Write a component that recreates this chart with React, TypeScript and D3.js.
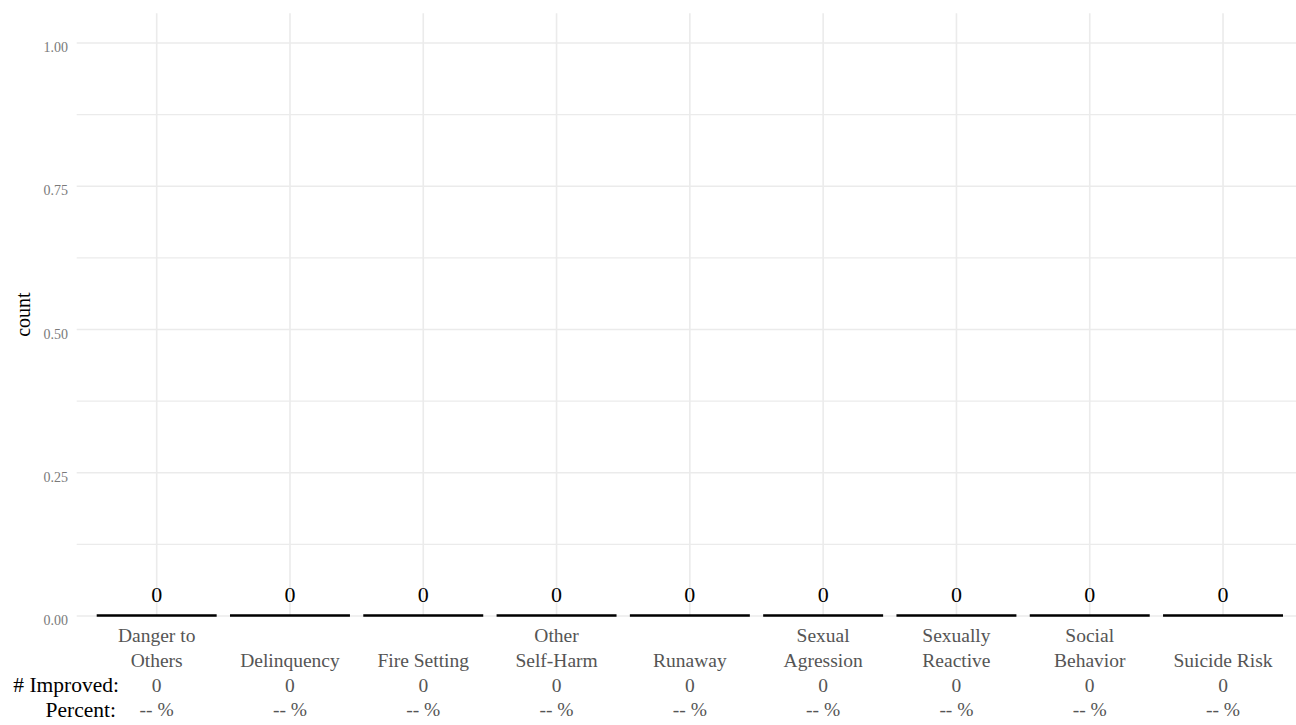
import React from "react";
import * as d3 from "d3";

const categories: string[][] = [
  ["Danger to", "Others"],
  ["Delinquency"],
  ["Fire Setting"],
  ["Other", "Self-Harm"],
  ["Runaway"],
  ["Sexual", "Agression"],
  ["Sexually", "Reactive"],
  ["Social", "Behavior"],
  ["Suicide Risk"],
];
const counts: number[] = [0, 0, 0, 0, 0, 0, 0, 0, 0];
const improved: number[] = [0, 0, 0, 0, 0, 0, 0, 0, 0];
const percentLabels: string[] = ["--", "--", "--", "--", "--", "--", "--", "--", "--"];
const yTicks: number[] = [0, 0.25, 0.5, 0.75, 1.0];
const yMinor: number[] = [0.125, 0.375, 0.625, 0.875];

const W = 1296;
const H = 725;
const FONT = "'Liberation Serif', 'Times New Roman', serif";

export default function App() {
  const x = d3.scaleLinear().domain([0.4, categories.length + 0.6]).range([76.7, 1303]);
  const y = d3.scaleLinear().domain([0, 1]).range([616, 43]);
  const top = y(1.052);
  const bottom = y(0);
  const left = x(0.4);
  const right = x(categories.length + 0.6);
  const fmt = d3.format(".2f");
  const grid = "#ebebeb";

  const l1 = 642, l2 = 667, l3 = 692, l4 = 716;

  const barPath = (v: number, i: number) => {
    const p = d3.path();
    const x0 = x(i + 1 - 0.45);
    const x1 = x(i + 1 + 0.45);
    const y0 = y(0) - 0.5;
    const y1 = y(v) - 0.5;
    p.moveTo(x0, y0);
    p.lineTo(x1, y0);
    p.lineTo(x1, y1);
    p.lineTo(x0, y1);
    p.closePath();
    return p.toString();
  };

  return (
    <svg width={W} height={H} style={{ position: "absolute", left: 0, top: 0, background: "#fff" }} fontFamily={FONT}>
      {/* minor grid */}
      {yMinor.map((v) => (
        <line key={"mi" + v} x1={left} x2={right} y1={y(v)} y2={y(v)} stroke={grid} strokeWidth={1.4} />
      ))}
      {/* major grid */}
      {yTicks.map((v) => (
        <line key={"ma" + v} x1={left} x2={right} y1={y(v)} y2={y(v)} stroke={grid} strokeWidth={1.6} />
      ))}
      {categories.map((c, i) => (
        <line key={"vg" + i} x1={x(i + 1)} x2={x(i + 1)} y1={top} y2={bottom} stroke={grid} strokeWidth={1.6} />
      ))}
      {/* y tick labels */}
      {yTicks.map((v) => (
        <text key={"yt" + v} x={68} y={y(v) + 9} textAnchor="end" fontSize={14} fill="#7a7a7a">
          {fmt(v)}
        </text>
      ))}
      {/* y axis title */}
      <text transform={`translate(30, ${(top + bottom) / 2}) rotate(-90)`} textAnchor="middle" fontSize={20} fill="#000">
        count
      </text>
      {/* bars (zero height) */}
      {counts.map((v, i) => (
        <path key={"b" + i} d={barPath(v, i)} fill="#000" stroke="#000" strokeWidth={2.7} />
      ))}
      {/* count labels */}
      {counts.map((v, i) => (
        <text key={"cl" + i} x={x(i + 1)} y={y(v) - 14} textAnchor="middle" fontSize={22} fill="#000">
          {v}
        </text>
      ))}
      {/* x labels */}
      {categories.map((c, i) => (
        <g key={"xl" + i} fill="#555" fontSize={19.5} textAnchor="middle">
          {c.length === 2 ? (
            <>
              <text x={x(i + 1)} y={l1}>{c[0]}</text>
              <text x={x(i + 1)} y={l2}>{c[1]}</text>
            </>
          ) : (
            <text x={x(i + 1)} y={l2}>{c[0]}</text>
          )}
          <text x={x(i + 1)} y={l3}>{improved[i]}</text>
          <text x={x(i + 1)} y={l4}>{percentLabels[i] + " %"}</text>
        </g>
      ))}
      <text x={119} y={l3} textAnchor="end" fontSize={21.5} fill="#000"># Improved:</text>
      <text x={116} y={l4 + 1} textAnchor="end" fontSize={21.5} fill="#000">Percent:</text>
    </svg>
  );
}
